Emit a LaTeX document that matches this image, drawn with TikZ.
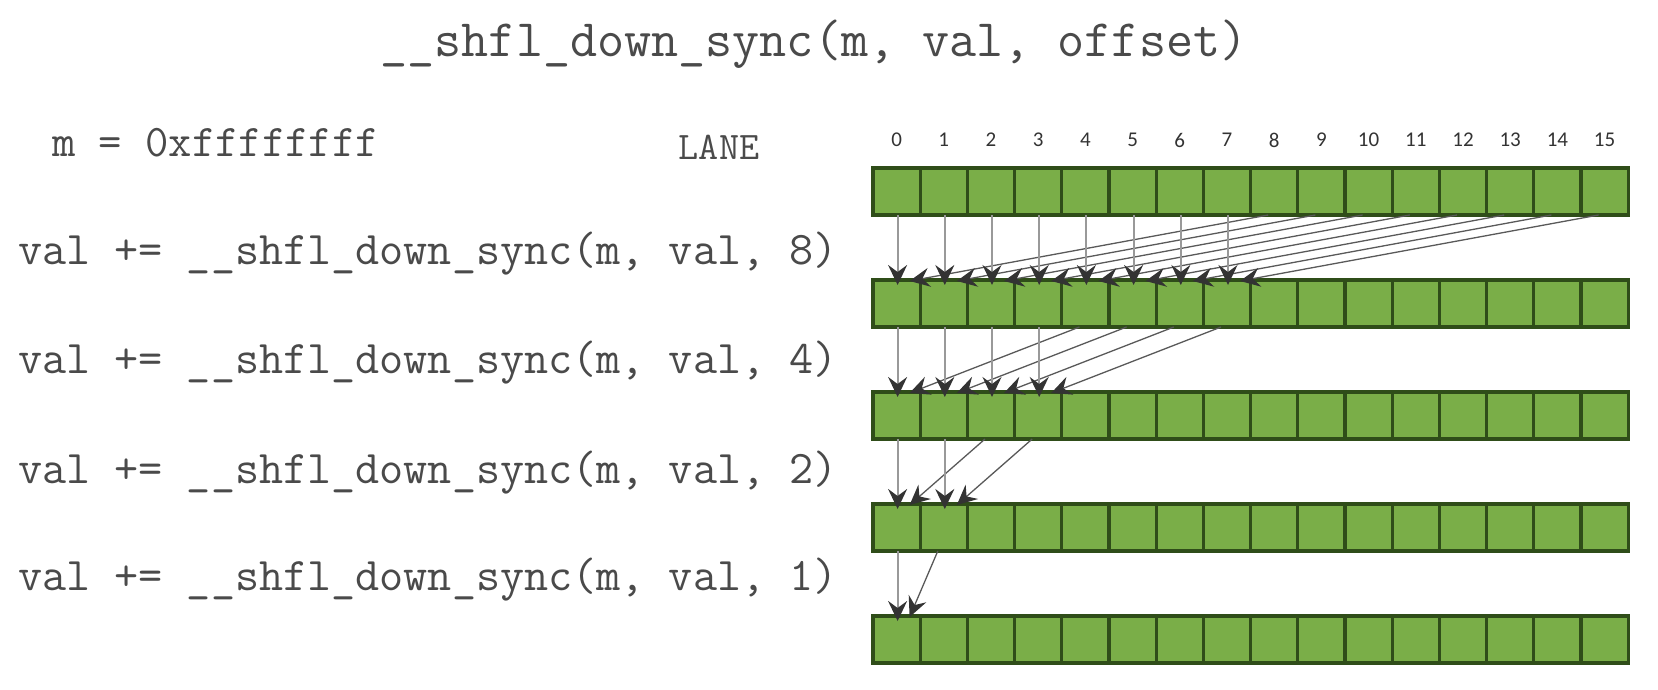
\documentclass[tikz,border=0pt]{standalone}
\usepackage{fontspec}
\setmainfont{Liberation Serif}
\newfontfamily\lanefont{Carlito}
\usetikzlibrary{arrows.meta}
\definecolor{cellgreen}{HTML}{7AAE48}
\definecolor{celledge}{HTML}{2F4D19}
\definecolor{codegray}{HTML}{4A4A4A}

\begin{document}
\begin{tikzpicture}[x=1pt,y=-1pt,
    cell/.style={draw=celledge,fill=cellgreen,line width=3.2pt,minimum width=47.2pt,minimum height=47pt,inner sep=0pt,outer sep=0pt},
    code/.style={text=codegray,font=\ttfamily\fontsize{46.8}{52}\selectfont,inner sep=0pt,anchor=west},
    headtip/.style={-{Stealth[length=20pt,width=19pt,inset=7pt,color=black!80]}},
    keeparrow/.style={headtip,draw=black!40,line width=2pt},
    hoparrow/.style={headtip,draw=black!65,line width=1.3pt}]
    \useasboundingbox (0,0) rectangle (1658,689);
    \node[text=codegray,font=\ttfamily\fontsize{52.6}{58}\selectfont,inner sep=0pt] (title) at (814,44) {\_\_shfl\_down\_sync(m, val, offset)};
    \node[code,font=\ttfamily\fontsize{45.3}{50}\selectfont] (mask) at (52,143) {m = 0xffffffff};
    \node[text=codegray,font=\ttfamily\fontsize{39}{44}\selectfont,inner sep=0pt] (lane) at (719,147) {LANE};
    \foreach \i in {0,...,15}{
        \node[font=\lanefont\fontsize{21}{25}\selectfont,text=black!80] (l-\i) at (896.6+47.2*\i,140) {\i};
        \foreach \r in {0,...,4}
            \node[cell] (b-\r-\i) at (896.6+47.2*\i,191.5+112*\r) {};
    }
    \foreach \d/\r/\y in {8/0/254,4/1/363,2/2/473,1/3/580}{
        \node[code] (op-\r) at (18,\y) {val += \_\_shfl\_down\_sync(m, val, \d)};
        \pgfmathtruncatemacro{\n}{\r+1}
        \pgfmathtruncatemacro{\last}{\d-1}
        \foreach \i in {0,...,\last}{
            \pgfmathtruncatemacro{\src}{\i+\d}
            \draw[keeparrow] ([xshift=1pt]b-\r-\i.south) -- ([xshift=1pt,yshift=-5pt]b-\n-\i.north);
            \draw[hoparrow] ([xshift=-6pt]b-\r-\src.south) -- ([xshift=13pt,yshift=-1pt]b-\n-\i.north);
        }
    }
\end{tikzpicture}
\end{document}
